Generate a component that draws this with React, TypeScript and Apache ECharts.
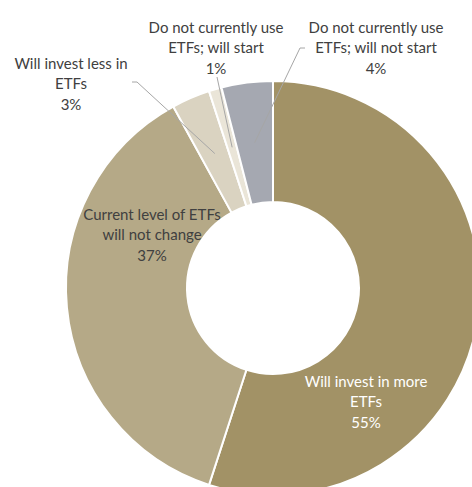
import React, { useEffect, useRef } from "react";
import * as echarts from "echarts";

const categories = [
  "Will invest in more\nETFs",
  "Current level of ETFs\nwill not change",
  "Will invest less in\nETFs",
  "Do not currently use\nETFs; will start",
  "Do not currently use\nETFs; will not start",
];
const values = [55, 37, 3, 1, 4];
const colors = ["#A29266", "#B5A987", "#DAD3C1", "#EAE5D8", "#A5A8B1"];
const labelColors = ["#FFFFFF", "#404040", "#404040", "#404040", "#404040"];

// layout (pixels)
const CX = 273;
const CY = 288;
const R_IN = 86;
const R_OUT = 207;
const labelPos: [number, number][] = [
  [366, 401],
  [152, 234],
  [71, 83],
  [216, 47],
  [376, 47],
];
const lineStarts: ([number, number][] | null)[] = [
  null,
  null,
  [
    [132, 82],
    [137, 82],
  ],
  [
    [217, 77],
    [217, 77],
  ],
  [
    [305, 48],
    [300, 48],
  ],
];

export default function App() {
  const ref = useRef<HTMLDivElement>(null);
  useEffect(() => {
    if (!ref.current) return;
    const chart = echarts.init(ref.current, null, { renderer: "svg" });
    const total = values.reduce((a, b) => a + b, 0);
    const midAngles: number[] = [];
    let acc = 0;
    values.forEach((v) => {
      midAngles.push(((acc + v / 2) / total) * Math.PI * 2);
      acc += v;
    });
    const rm = (R_IN + R_OUT) / 2;
    const lines: any[] = [];
    lineStarts.forEach((st, i) => {
      if (!st) return;
      const a = midAngles[i];
      const end = [CX + rm * Math.sin(a), CY - rm * Math.cos(a)];
      lines.push({
        type: "polyline",
        z: 100,
        silent: true,
        shape: { points: [st[0], st[1], end] },
        style: { stroke: "#A6A6A6", lineWidth: 1, fill: null },
      });
    });
    chart.setOption({
      animation: false,
      backgroundColor: "#FFFFFF",
      graphic: lines,
      series: [
        {
          type: "pie",
          center: [CX, CY],
          radius: [R_IN, R_OUT],
          startAngle: 90,
          clockwise: true,
          avoidLabelOverlap: false,
          itemStyle: { borderColor: "#FFFFFF", borderWidth: 2 },
          label: {
            show: true,
            position: "outside",
            fontFamily: "Lato",
            fontSize: 15,
            lineHeight: 20.5,
            align: "center",
            formatter: (p: any) => `${p.name}\n${p.value}%`,
          },
          labelLine: { show: false },
          labelLayout: (params: any) => {
            const i = params.dataIndex;
            return {
              x: labelPos[i][0],
              y: labelPos[i][1],
              align: "center",
              verticalAlign: "middle",
            };
          },
          data: categories.map((name, i) => ({
            name,
            value: values[i],
            itemStyle: { color: colors[i] },
            label: { color: labelColors[i] },
          })),
        },
      ],
    });
    return () => chart.dispose();
  }, []);
  return (
    <div
      ref={ref}
      style={{ position: "absolute", left: 0, top: 0, width: 472, height: 487 }}
    />
  );
}
